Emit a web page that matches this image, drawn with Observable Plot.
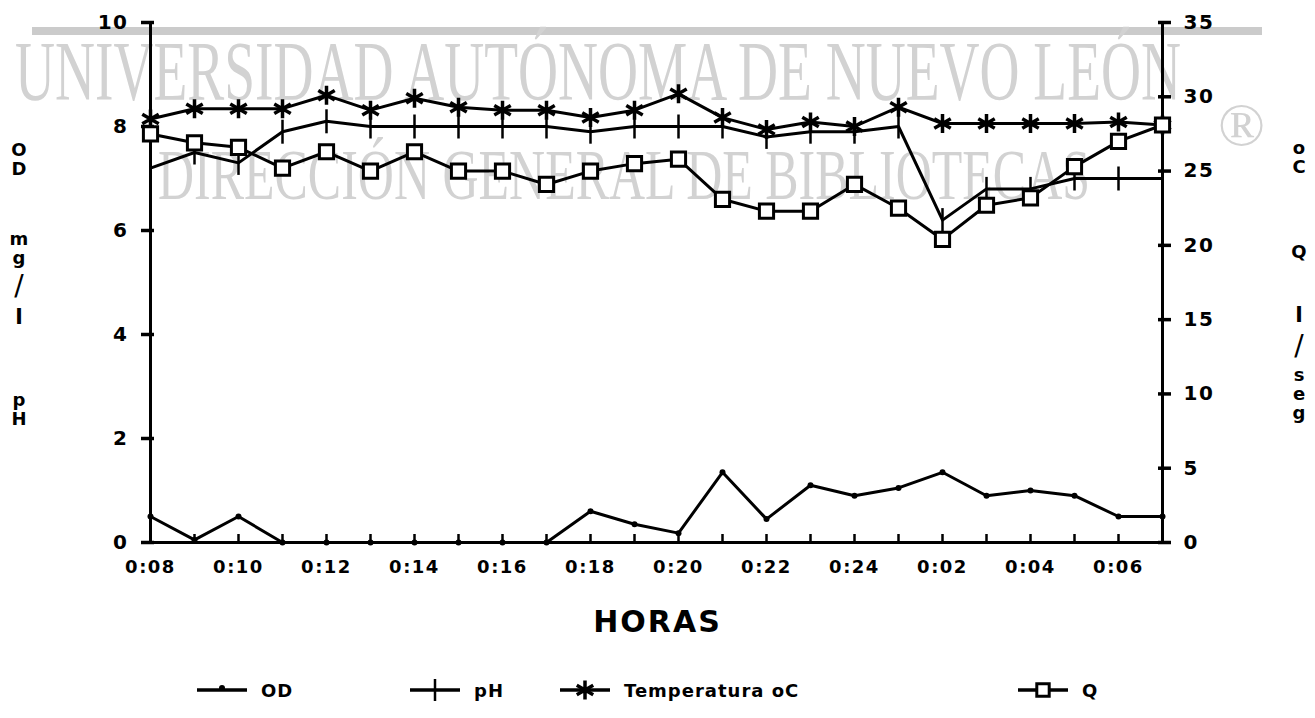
<!DOCTYPE html>
<html>
<head>
<meta charset="utf-8">
<script src="https://cdn.jsdelivr.net/npm/d3@7"></script>
<script src="https://cdn.jsdelivr.net/npm/@observablehq/plot@0.6"></script>
<style>
  body { margin: 0; background: #fff; }
  #wrap { position: relative; width: 1315px; height: 718px; overflow: hidden; background: #fff;
          font-family: "DejaVu Sans", sans-serif; font-weight: bold; color: #000; }
  .wm { position: absolute; color: #d2d2d2; font-family: "Liberation Serif", "DejaVu Serif", serif;
        font-weight: normal; white-space: nowrap; transform-origin: 0 0; line-height: 0.75; }
  #bar { position: absolute; left: 32px; top: 27px; width: 1230px; height: 8px; background: #cbcbcb; }
  #chart { position: absolute; left: 0; top: 0; }
  .stack { position: absolute; width: 30px; text-align: center; font-size: 18px; line-height: 19px; }
  .stack .big { display: block; font-size: 28px; line-height: 38px; font-weight: normal; }
  .stack .mid { display: block; font-size: 22px; line-height: 24px; }
  #xlabel { position: absolute; top: 604px; left: 0; width: 1315px; text-align: center; font-size: 30px; letter-spacing: 2px; }
  .leg { position: absolute; top: 678px; height: 24px; display: flex; align-items: center; font-size: 18px; letter-spacing: 1px; }
  .leg svg { margin-right: 14px; }
</style>
</head>
<body>
<div id="wrap">
  <div id="bar"></div>
  <div class="wm" id="wm1">UNIVERSIDAD AUTÓNOMA DE NUEVO LEÓN</div>
  <div class="wm" id="wm2">DIRECCIÓN GENERAL DE BIBLIOTECAS</div>
  <div class="wm" id="wm3">®</div>
  <div id="chart"></div>
  <div class="stack" style="left:4px;top:140px;">O<br>D</div>
  <div class="stack" style="left:4px;top:229px;">m<br>g<span class="big">/</span><span class="mid">l</span></div>
  <div class="stack" style="left:4px;top:390px;">p<br>H</div>
  <div class="stack" style="left:1284px;top:138px;">o<br>C</div>
  <div class="stack" style="left:1284px;top:242px;">Q</div>
  <div class="stack" style="left:1284px;top:303px;"><span class="mid">l</span><span class="big">/</span>s<br>e<br>g</div>
  <div id="xlabel">HORAS</div>
  <div id="legend"></div>
</div>
<script>
// ---- data ----
const horas = ["0:08","0:09","0:10","0:11","0:12","0:13","0:14","0:15","0:16","0:17","0:18","0:19",
               "0:20","0:21","0:22","0:23","0:24","0:01","0:02","0:03","0:04","0:05","0:06","0:07"];
const horaLabels = ["0:08","0:10","0:12","0:14","0:16","0:18","0:20","0:22","0:24","0:02","0:04","0:06"];
const od = [0.5, 0.05, 0.5, 0, 0, 0, 0, 0, 0, 0, 0.6, 0.35, 0.18, 1.35, 0.45, 1.1, 0.9, 1.05, 1.35, 0.9, 1.0, 0.9, 0.5, 0.5];
const ph = [7.2, 7.5, 7.3, 7.9, 8.1, 8.0, 8.0, 8.0, 8.0, 8.0, 7.9, 8.0, 8.0, 8.0, 7.8, 7.9, 7.9, 8.0, 6.2, 6.8, 6.8, 7.0, 7.0, 7.0];
const temperatura = [28.5, 29.2, 29.2, 29.2, 30.1, 29.1, 29.9, 29.3, 29.1, 29.1, 28.6, 29.1, 30.2, 28.6, 27.8, 28.3, 28.0, 29.3, 28.2, 28.2, 28.2, 28.2, 28.3, 28.1];
const q = [27.5, 26.9, 26.6, 25.2, 26.3, 25.0, 26.3, 25.0, 25.0, 24.1, 25.0, 25.5, 25.8, 23.1, 22.3, 22.3, 24.1, 22.5, 20.4, 22.7, 23.2, 25.3, 27.0, 28.1];
const leftTicks = [0, 2, 4, 6, 8, 10];
const rightTicks = [0, 5, 10, 15, 20, 25, 30, 35];
const leftMax = 10, rightMax = 35;
const legendItems = ["OD", "pH", "Temperatura oC", "Q"];

// ---- build ----
const k = leftMax / rightMax;
const rows = horas.map((h, i) => ({hora: h, od: od[i], ph: ph[i], temp: temperatura[i] * k, q: q[i] * k}));
const vbar = {draw(ctx, size) { const h = Math.sqrt(size / Math.PI); ctx.moveTo(0, -h); ctx.lineTo(0, h); }};
const SW = 3;

const chart = Plot.plot({
  width: 1315, height: 600,
  marginLeft: 141, marginRight: 145, marginTop: 22, marginBottom: 58,
  style: {background: "transparent", fontFamily: "DejaVu Sans, sans-serif", fontWeight: "bold", letterSpacing: "1.5px", color: "black"},
  x: {type: "point", domain: horas, padding: 0, label: null},
  y: {domain: [0, leftMax], label: null},
  marks: [
    Plot.ruleY([0], {strokeWidth: SW}),
    Plot.ruleX([horas[0], horas[horas.length - 1]], {strokeWidth: SW}),
    Plot.axisX(horas, {tickSize: -8, strokeWidth: 2.5, tickFormat: () => "", label: null}),
    Plot.axisX(horaLabels, {tickSize: 0, tickPadding: 18, fontSize: 18, label: null}),
    Plot.axisY(leftTicks, {anchor: "left", tickSize: -13, strokeWidth: 3.5, tickFormat: () => "", label: null}),
    Plot.axisY(leftTicks, {anchor: "left", tickSize: 0, tickPadding: 13, fontSize: 20, label: null,
      tickFormat: d => String(d)}),
    Plot.axisY(rightTicks.map(v => v * k), {anchor: "right", tickSize: -13, strokeWidth: 3.5, tickFormat: () => "", label: null}),
    Plot.axisY(rightTicks.map(v => v * k), {anchor: "right", tickSize: 0, tickPadding: 13, fontSize: 20, label: null,
      tickFormat: d => String(Math.round(d / k))}),
    // OD
    Plot.line(rows, {x: "hora", y: "od", strokeWidth: SW}),
    Plot.dot(rows, {x: "hora", y: "od", r: 3, fill: "black"}),
    // pH
    Plot.line(rows, {x: "hora", y: "ph", strokeWidth: SW}),
    Plot.dot(rows, {x: "hora", y: "ph", r: 12, symbol: vbar, fill: "none", stroke: "black", strokeWidth: 2.5}),
    // Temperatura
    Plot.line(rows, {x: "hora", y: "temp", strokeWidth: SW}),
    Plot.dot(rows, {x: "hora", y: "temp", r: 9, symbol: "asterisk", fill: "none", stroke: "black", strokeWidth: 3.5}),
    // Q
    Plot.line(rows, {x: "hora", y: "q", strokeWidth: SW}),
    Plot.dot(rows, {x: "hora", y: "q", r: 8, symbol: "square", fill: "white", stroke: "black", strokeWidth: 3})
  ]
});
document.getElementById("chart").appendChild(chart);

// ---- legend (HTML) ----
const legendLeft = [197, 410, 560, 1018];
const legendSym = ["dot", "vbar", "asterisk", "square"];
const legend = document.getElementById("legend");
legendItems.forEach((name, i) => {
  const item = document.createElement("div");
  item.className = "leg";
  item.style.left = legendLeft[i] + "px";
  const svg = d3.create("svg").attr("width", 50).attr("height", 26);
  svg.append("line").attr("x1", 0).attr("x2", 50).attr("y1", 13).attr("y2", 13).attr("stroke", "black").attr("stroke-width", 3.5);
  const g = svg.append("g").attr("transform", "translate(25,13)");
  if (legendSym[i] === "dot") g.append("circle").attr("r", 3).attr("cy", -2).attr("fill", "black");
  if (legendSym[i] === "vbar") g.append("line").attr("y1", -11).attr("y2", 11).attr("stroke", "black").attr("stroke-width", 2.5);
  if (legendSym[i] === "asterisk") g.append("path").attr("d", d3.symbol(d3.symbolAsterisk, Math.PI * 81)()).attr("stroke", "black").attr("stroke-width", 3.5).attr("fill", "none");
  if (legendSym[i] === "square") g.append("path").attr("d", d3.symbol(d3.symbolSquare, Math.PI * 49)()).attr("stroke", "black").attr("stroke-width", 3).attr("fill", "white");
  item.appendChild(svg.node());
  const t = document.createElement("span");
  t.textContent = name;
  item.appendChild(t);
  legend.appendChild(item);
});

// ---- watermark fitting (line-height 0.75: cap top sits 0.0505em below box top) ----
function fit(id, fontSize, left, capTop, width) {
  const el = document.getElementById(id);
  el.style.fontSize = fontSize + "px";
  el.style.left = left + "px";
  el.style.top = (capTop - 0.0505 * fontSize) + "px";
  const w = el.getBoundingClientRect().width;
  if (width) el.style.transform = `scaleX(${width / w})`;
}
fit("wm1", 84, 15, 44, 1166);
fit("wm2", 72, 158, 152, 932);
fit("wm3", 62, 1218, 104, null);
</script>
</body>
</html>
